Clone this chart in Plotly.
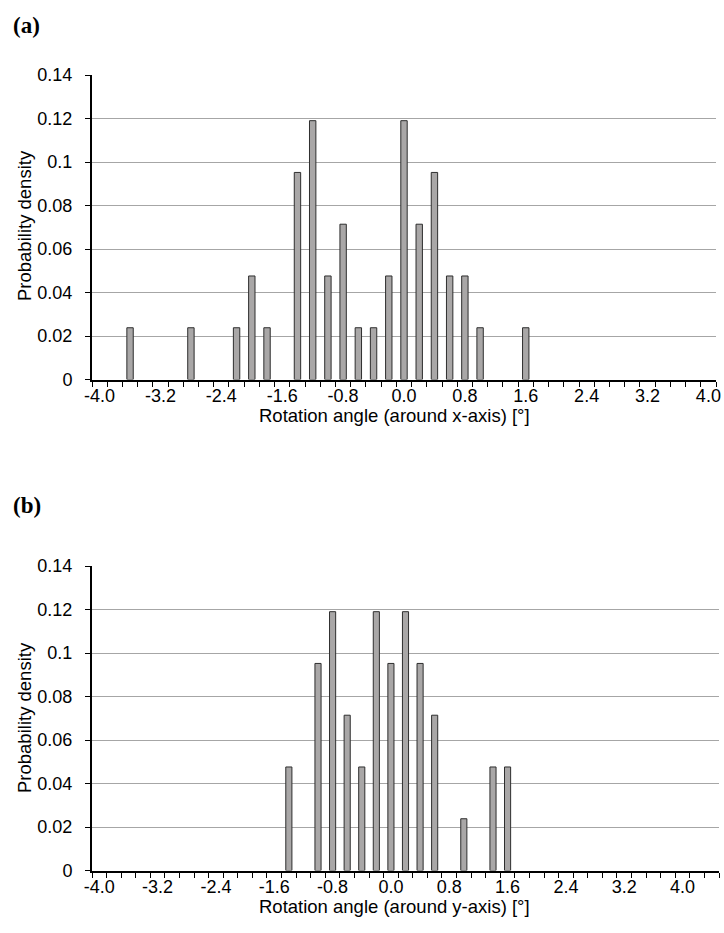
import plotly.graph_objects as go

# ---- data ----
angles_a = [-3.6, -2.8, -2.2, -2.0, -1.8, -1.4, -1.2, -1.0, -0.8, -0.6,
            -0.4, -0.2, 0.0, 0.2, 0.4, 0.6, 0.8, 1.0, 1.6]
density_a = [0.0238, 0.0238, 0.0238, 0.0476, 0.0238, 0.0952, 0.119, 0.0476, 0.0714, 0.0238,
             0.0238, 0.0476, 0.119, 0.0714, 0.0952, 0.0476, 0.0476, 0.0238, 0.0238]

angles_b = [-1.4, -1.0, -0.8, -0.6, -0.4, -0.2, 0.0, 0.2, 0.4, 0.6, 1.0, 1.4, 1.6]
density_b = [0.0476, 0.0952, 0.119, 0.0714, 0.0476, 0.119, 0.0952, 0.119, 0.0952, 0.0714,
             0.0238, 0.0476, 0.0476]

x_tick_vals = [-4.0, -3.2, -2.4, -1.6, -0.8, 0.0, 0.8, 1.6, 2.4, 3.2, 4.0]
x_tick_text = ["-4.0", "-3.2", "-2.4", "-1.6", "-0.8", "0.0", "0.8", "1.6", "2.4", "3.2", "4.0"]
y_tick_vals = [0, 0.02, 0.04, 0.06, 0.08, 0.1, 0.12, 0.14]
y_tick_text = ["0", "0.02", "0.04", "0.06", "0.08", "0.1", "0.12", "0.14"]

x_title_a = "Rotation angle (around x-axis) [°]"
x_title_b = "Rotation angle (around y-axis) [°]"
y_title = "Probability density"

W, H = 724, 933
FONT = "Liberation Sans, Arial, sans-serif"
BAR_FILL = "#A9A7A7"
BAR_LINE = "#2E2E2E"
GRID = "#A6A6A6"

fig = go.Figure()
fig.add_trace(go.Bar(x=angles_a, y=density_a, xaxis="x", yaxis="y",
                     marker=dict(color=BAR_FILL, line=dict(color=BAR_LINE, width=1)),
                     width=0.084, showlegend=False, hoverinfo="x+y"))
fig.add_trace(go.Bar(x=angles_b, y=density_b, xaxis="x2", yaxis="y2",
                     marker=dict(color=BAR_FILL, line=dict(color=BAR_LINE, width=1)),
                     width=0.084, showlegend=False, hoverinfo="x+y"))


def xaxis_cfg(domain, rng, anchor):
    return dict(
        domain=domain, range=rng, anchor=anchor, type="linear",
        tickmode="array", tickvals=x_tick_vals, ticktext=x_tick_text,
        ticks="outside", ticklen=6, tickcolor="rgba(0,0,0,0)",
        tickfont=dict(family=FONT, size=18, color="black"),
        ticklabelstandoff=-7,
        showgrid=False, zeroline=False,
        showline=True, linecolor="black", linewidth=2,
        minor=dict(ticks="outside", ticklen=5, tickwidth=1, tickcolor="black",
                   tickmode="linear", tick0=rng[0], dtick=0.2, showgrid=False),
        automargin=False, fixedrange=True,
    )


def yaxis_cfg(domain, anchor):
    return dict(
        domain=domain, range=[0, 0.14], anchor=anchor,
        tickmode="array", tickvals=y_tick_vals, ticktext=y_tick_text,
        ticks="outside", ticklen=5, tickwidth=1, tickcolor="black",
        tickfont=dict(family=FONT, size=18, color="black"),
        ticklabelstandoff=9,
        showgrid=True, gridcolor=GRID, gridwidth=1,
        zeroline=False, showline=True, linecolor="black", linewidth=2,
        automargin=False, fixedrange=True,
    )


title_font = dict(family=FONT, size=18.5, color="black")
panel_font = dict(family="Liberation Serif, DejaVu Serif, serif", size=23, color="black")

fig.update_layout(
    width=W, height=H,
    margin=dict(l=0, r=0, t=0, b=0),
    paper_bgcolor="white", plot_bgcolor="white",
    xaxis=xaxis_cfg([92 / W, 716 / W], [-4.1, 4.1], "y"),
    yaxis=yaxis_cfg([1 - 379.5 / H, 1 - 75 / H], "x"),
    xaxis2=xaxis_cfg([92 / W, 719 / W], [-4.1, 4.5], "y2"),
    yaxis2=yaxis_cfg([1 - 870.5 / H, 1 - 566 / H], "x2"),
    annotations=[
        dict(text="<b>(a)</b>", x=11 / W, y=1 - 25 / H, xref="paper", yref="paper",
             xanchor="left", yanchor="middle", showarrow=False, font=panel_font),
        dict(text="<b>(b)</b>", x=11 / W, y=1 - 506 / H, xref="paper", yref="paper",
             xanchor="left", yanchor="middle", showarrow=False, font=panel_font),
        dict(text=x_title_a, x=394 / W, y=1 - 415 / H, xref="paper", yref="paper",
             xanchor="center", yanchor="middle", showarrow=False, font=title_font),
        dict(text=x_title_b, x=394 / W, y=1 - 906 / H, xref="paper", yref="paper",
             xanchor="center", yanchor="middle", showarrow=False, font=title_font),
        dict(text=y_title, x=24 / W, y=1 - 226 / H, xref="paper", yref="paper",
             xanchor="center", yanchor="middle", textangle=-90, showarrow=False, font=title_font),
        dict(text=y_title, x=24 / W, y=1 - 718 / H, xref="paper", yref="paper",
             xanchor="center", yanchor="middle", textangle=-90, showarrow=False, font=title_font),
    ],
)

fig.write_html("out.html")
